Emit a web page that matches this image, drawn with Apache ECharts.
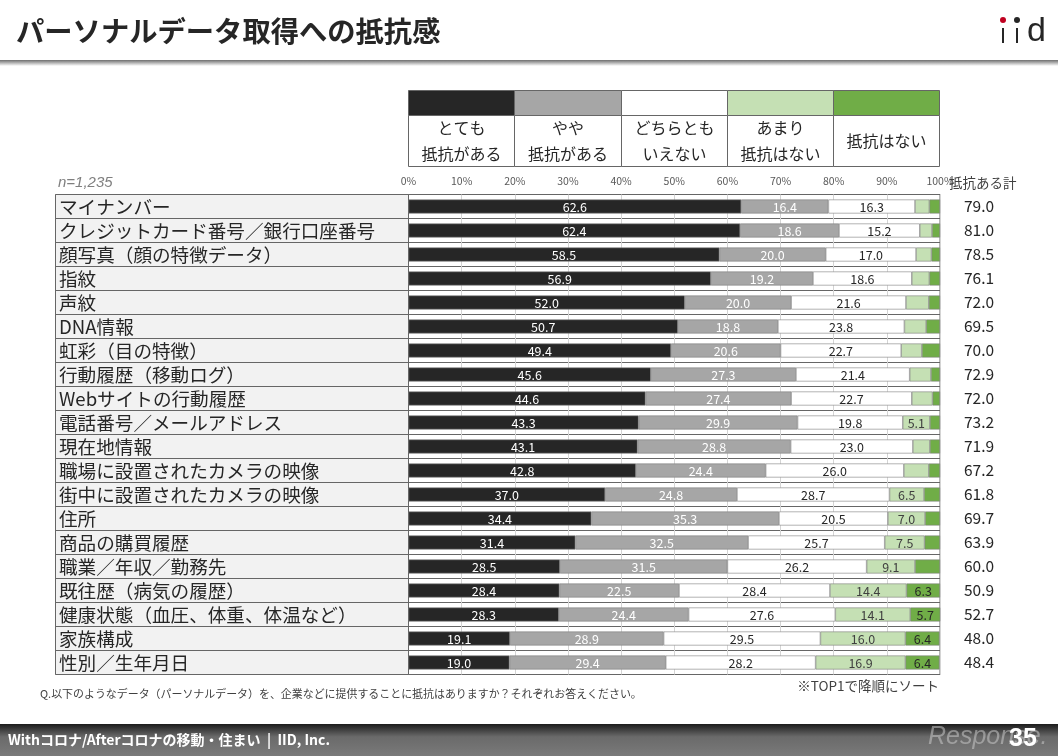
<!DOCTYPE html>
<html>
<head>
<meta charset="utf-8">
<title>パーソナルデータ取得への抵抗感</title>
<style>
    html, body { margin: 0; padding: 0; background: #fff; }
    #main { width: 1058px; height: 756px; }
</style>
<script src="https://cdn.jsdelivr.net/npm/echarts@6/dist/echarts.min.js"></script>
</head>
<body>
<div id="main"></div>
<script>
var categories = ['マイナンバー', 'クレジットカード番号／銀行口座番号', '顔写真（顔の特徴データ）', '指紋', '声紋', 'DNA情報', '虹彩（目の特徴）', '行動履歴（移動ログ）', 'Webサイトの行動履歴', '電話番号／メールアドレス', '現在地情報', '職場に設置されたカメラの映像', '街中に設置されたカメラの映像', '住所', '商品の購買履歴', '職業／年収／勤務先', '既往歴（病気の履歴）', '健康状態（血圧、体重、体温など）', '家族構成', '性別／生年月日'];
var veryResist = [62.6, 62.4, 58.5, 56.9, 52.0, 50.7, 49.4, 45.6, 44.6, 43.3, 43.1, 42.8, 37.0, 34.4, 31.4, 28.5, 28.4, 28.3, 19.1, 19.0];
var someResist = [16.4, 18.6, 20.0, 19.2, 20.0, 18.8, 20.6, 27.3, 27.4, 29.9, 28.8, 24.4, 24.8, 35.3, 32.5, 31.5, 22.5, 24.4, 28.9, 29.4];
var neutral = [16.3, 15.2, 17.0, 18.6, 21.6, 23.8, 22.7, 21.4, 22.7, 19.8, 23.0, 26.0, 28.7, 20.5, 25.7, 26.2, 28.4, 27.6, 29.5, 28.2];
var notMuch = [2.7, 2.3, 2.9, 3.3, 4.3, 4.1, 3.9, 4.0, 3.9, 5.1, 3.2, 4.7, 6.5, 7.0, 7.5, 9.1, 14.4, 14.1, 16.0, 16.9];
var noResist = [2.0, 1.5, 1.6, 2.0, 2.1, 2.6, 3.4, 1.7, 1.4, 1.9, 1.9, 2.1, 3.0, 2.8, 2.9, 4.7, 6.3, 5.7, 6.4, 6.4];
var totals = ['79.0', '81.0', '78.5', '76.1', '72.0', '69.5', '70.0', '72.9', '72.0', '73.2', '71.9', '67.2', '61.8', '69.7', '63.9', '60.0', '50.9', '52.7', '48.0', '48.4'];
var legendNames = [['とても', '抵抗がある'], ['やや', '抵抗がある'], ['どちらとも', 'いえない'], ['あまり', '抵抗はない'], ['抵抗はない']];
var legendColors = ['#262626', '#a6a6a6', '#ffffff', '#c5e0b4', '#70ad47'];
var labelColors = ['#ffffff', '#ffffff', '#262626', '#404040', '#262626'];

var jpFont = '"Noto Sans CJK JP", "Noto Sans", sans-serif';
var latinFont = '"Liberation Sans", sans-serif';
var lineColor = '#666666';
var myChart = echarts.init(document.getElementById('main'));

function makeSeries(name, values, i) {
    return {
        name: name,
        type: 'bar',
        stack: 'all',
        barWidth: 14,
        data: values,
        itemStyle: { color: legendColors[i], borderColor: '#808080', borderWidth: 0.6 },
        label: {
            show: true,
            position: 'inside',
            offset: [0, 1],
            color: labelColors[i],
            fontFamily: jpFont,
            fontSize: 12.5,
            // 5未満は値を表示しない
            formatter: function (p) {
                return p.value >= 5 ? p.value.toFixed(1) : '';
            }
        }
    };
}

function text(x, y, str, size, color, extra) {
    var style = { x: x, y: y, text: str, fontSize: size, fill: color, fontFamily: jpFont, textVerticalAlign: 'middle' };
    for (var k in extra) { style[k] = extra[k]; }
    return { type: 'text', z: 10, style: style };
}

// 上の凡例テーブル
var legendX = [408.5, 514.5, 621.5, 727.5, 833.5, 939.5];
var graphics = [
    // 左の項目欄
    { type: 'rect', z: -1, shape: { x: 55.5, y: 194.5, width: 353, height: 480 }, style: { fill: '#f2f2f2', stroke: lineColor, lineWidth: 1 } },
    // ヘッダーの線
    { type: 'rect', z: 1, shape: { x: 0, y: 60, width: 1058, height: 6 }, style: { fill: new echarts.graphic.LinearGradient(0, 0, 0, 1, [{ offset: 0, color: '#6e6e6e' }, { offset: 0.3, color: '#9a9a9a' }, { offset: 1, color: '#ffffff' }]) } },
    text(16, 31, 'パーソナルデータ取得への抵抗感', 28.3, '#262626', { fontWeight: 'bold' }),
    // ロゴ
    { type: 'circle', z: 11, shape: { cx: 1003, cy: 20, r: 3 }, style: { fill: '#c00020' } },
    { type: 'circle', z: 11, shape: { cx: 1017, cy: 20, r: 3 }, style: { fill: '#262626' } },
    { type: 'rect', z: 11, shape: { x: 1002, y: 28, width: 2, height: 15 }, style: { fill: '#262626' } },
    { type: 'rect', z: 11, shape: { x: 1016, y: 28, width: 2, height: 15 }, style: { fill: '#262626' } },
    text(1027, 32, 'd', 34, '#262626', { fontFamily: latinFont }),
    text(58, 183, 'n=1,235', 15, '#7f7f7f', { fontStyle: 'italic', fontFamily: latinFont }),
    text(949, 183, '抵抗ある計', 13.5, '#404040'),
    text(40, 694, 'Q.以下のようなデータ（パーソナルデータ）を、企業などに提供することに抵抗はありますか？それぞれお答えください。', 10.95, '#404040'),
    text(939, 686, '※TOP1で降順にソート', 13.5, '#404040', { textAlign: 'right' }),
    // フッター
    { type: 'rect', z: 1, shape: { x: 0, y: 724, width: 1058, height: 32 }, style: { fill: new echarts.graphic.LinearGradient(0, 0, 0, 1, [{ offset: 0, color: '#1c1c1c' }, { offset: 0.4, color: '#6a6a6a' }, { offset: 1, color: '#7a7a7a' }]) } },
    text(8, 740, 'Withコロナ/Afterコロナの移動・住まい  |  IID, Inc.', 14, '#ffffff', { fontWeight: 'bold' }),
    text(928, 737, 'Response.', 25, 'rgba(200,200,200,0.55)', { fontStyle: 'italic', fontFamily: latinFont }),
    text(1009, 739, '35', 25, '#ffffff', { fontWeight: 'bold', fontFamily: latinFont })
];

legendNames.forEach(function (lines, i) {
    var x0 = legendX[i], w = legendX[i + 1] - x0, cx = x0 + w / 2;
    graphics.push({ type: 'rect', z: 5, shape: { x: x0, y: 90.5, width: w, height: 25 }, style: { fill: legendColors[i], stroke: lineColor, lineWidth: 1 } });
    graphics.push({ type: 'rect', z: 5, shape: { x: x0, y: 115.5, width: w, height: 51 }, style: { fill: '#ffffff', stroke: lineColor, lineWidth: 1 } });
    if (lines.length === 2) {
        graphics.push(text(cx, 128, lines[0], 16, '#262626', { textAlign: 'center' }));
        graphics.push(text(cx, 154, lines[1], 16, '#262626', { textAlign: 'center' }));
    } else {
        graphics.push(text(cx, 141, lines[0], 16, '#262626', { textAlign: 'center' }));
    }
});

var option = {
    animation: false,
    backgroundColor: '#ffffff',
    textStyle: { fontFamily: jpFont },
    grid: { left: 408.5, top: 194.5, width: 531.5, height: 480, show: true, borderColor: lineColor, borderWidth: 1, backgroundColor: '#ffffff' },
    xAxis: {
        type: 'value',
        position: 'top',
        min: 0,
        max: 100,
        interval: 10,
        axisLine: { show: false },
        axisTick: { show: false },
        axisLabel: { formatter: '{value}%', fontSize: 10.5, color: '#595959', margin: 8, hideOverlap: false },
        splitLine: { show: true, lineStyle: { color: '#d4d4d4', width: 1 } }
    },
    yAxis: [
        {
            type: 'category',
            inverse: true,
            data: categories,
            axisLine: { show: true, lineStyle: { color: lineColor } },
            // 項目欄の区切り線は目盛りを左へ伸ばして引く
            axisTick: { show: true, length: 353, lineStyle: { color: lineColor } },
            axisLabel: { interval: 0, align: 'left', margin: 349.5, fontSize: 18.6, lineHeight: 22, verticalAlign: 'middle', padding: [0, 0, 2, 0], color: '#262626' },
            splitLine: { show: true, interval: 0, lineStyle: { color: lineColor, width: 1 } }
        },
        {
            type: 'category',
            inverse: true,
            position: 'right',
            data: totals,
            axisLine: { show: false },
            axisTick: { show: false },
            axisLabel: { interval: 0, margin: 24, fontSize: 15.5, color: '#262626' },
            splitLine: { show: false }
        }
    ],
    series: [
        makeSeries('とても抵抗がある', veryResist, 0),
        makeSeries('やや抵抗がある', someResist, 1),
        makeSeries('どちらともいえない', neutral, 2),
        makeSeries('あまり抵抗はない', notMuch, 3),
        makeSeries('抵抗はない', noResist, 4)
    ],
    graphic: graphics
};
myChart.setOption(option);
</script>
</body>
</html>
